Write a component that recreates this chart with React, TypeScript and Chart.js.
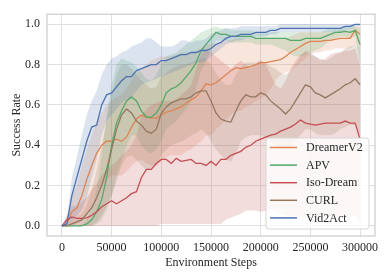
import React, { useEffect, useRef } from 'react';
import { Chart, registerables } from 'chart.js';

Chart.register(...registerables);

const steps = [
  0, 5000, 10000, 15000, 20000, 25000, 30000, 35000, 40000, 45000,
  50000, 55000, 60000, 65000, 70000, 75000, 80000, 85000, 90000, 95000,
  100000, 105000, 110000, 115000, 120000, 125000, 130000, 135000, 140000, 145000,
  150000, 155000, 160000, 165000, 170000, 175000, 180000, 185000, 190000, 195000,
  200000, 205000, 210000, 215000, 220000, 225000, 230000, 235000, 240000, 245000,
  250000, 255000, 260000, 265000, 270000, 275000, 280000, 285000, 290000, 295000,
  300000,
];

const methods = ['DreamerV2', 'APV', 'Iso-Dream', 'CURL', 'Vid2Act'];
const colors = ['#dd8452', '#55a868', '#c44e52', '#937860', '#4c72b0'];
const xTicks = [0, 50000, 100000, 150000, 200000, 250000, 300000];
const yTicks = [0, 0.2, 0.4, 0.6, 0.8, 1.0];

const dreamerMean = [
  0, 0.01, 0.07, 0.09, 0.15, 0.23, 0.30, 0.36, 0.40, 0.42,
  0.42, 0.43, 0.42, 0.44, 0.49, 0.53, 0.55, 0.54, 0.535, 0.535,
  0.55, 0.565, 0.57, 0.58, 0.59, 0.61, 0.625, 0.64, 0.67, 0.705,
  0.70, 0.71, 0.73, 0.75, 0.77, 0.785, 0.78, 0.785, 0.79, 0.80,
  0.81, 0.81, 0.815, 0.82, 0.825, 0.84, 0.86, 0.875, 0.89, 0.905,
  0.915, 0.915, 0.915, 0.92, 0.92, 0.925, 0.93, 0.93, 0.93, 0.97,
  0.95,
];
const dreamerLower = [
  0, 0, 0, 0.01, 0.02, 0.05, 0.10, 0.15, 0.20, 0.23,
  0.25, 0.25, 0.25, 0.27, 0.30, 0.32, 0.33, 0.31, 0.30, 0.30,
  0.32, 0.34, 0.35, 0.35, 0.35, 0.37, 0.38, 0.40, 0.42, 0.45,
  0.45, 0.48, 0.50, 0.53, 0.55, 0.57, 0.57, 0.59, 0.60, 0.62,
  0.63, 0.65, 0.68, 0.72, 0.75, 0.76, 0.77, 0.79, 0.81, 0.83,
  0.85, 0.86, 0.86, 0.87, 0.87, 0.88, 0.88, 0.88, 0.88, 0.90,
  0.88,
];
const dreamerUpper = [
  0, 0.05, 0.15, 0.20, 0.30, 0.38, 0.45, 0.52, 0.56, 0.60,
  0.62, 0.64, 0.65, 0.68, 0.72, 0.76, 0.78, 0.80, 0.82, 0.83,
  0.84, 0.84, 0.84, 0.85, 0.86, 0.86, 0.86, 0.87, 0.88, 0.90,
  0.90, 0.91, 0.91, 0.92, 0.92, 0.93, 0.93, 0.93, 0.93, 0.93,
  0.93, 0.93, 0.93, 0.93, 0.93, 0.93, 0.94, 0.95, 0.96, 0.96,
  0.96, 0.96, 0.96, 0.96, 0.96, 0.96, 0.97, 0.97, 0.97, 0.99,
  0.99,
];

const apvMean = [
  0, 0, 0, 0, 0, 0.01, 0.03, 0.07, 0.13, 0.24,
  0.40, 0.51, 0.57, 0.62, 0.64, 0.62, 0.57, 0.54, 0.54, 0.56,
  0.60, 0.66, 0.68, 0.69, 0.71, 0.74, 0.77, 0.81, 0.87, 0.90,
  0.93, 0.96, 0.95, 0.95, 0.94, 0.94, 0.94, 0.94, 0.94, 0.93,
  0.93, 0.93, 0.93, 0.93, 0.93, 0.93, 0.92, 0.92, 0.92, 0.93,
  0.93, 0.93, 0.93, 0.94, 0.95, 0.96, 0.96, 0.965, 0.96, 0.97,
  0.90,
];
const apvLower = [
  0, 0, 0, 0, 0, 0, 0, 0.01, 0.03, 0.08,
  0.15, 0.25, 0.32, 0.40, 0.45, 0.45, 0.40, 0.37, 0.36, 0.38,
  0.42, 0.48, 0.50, 0.52, 0.55, 0.58, 0.62, 0.68, 0.77, 0.82,
  0.87, 0.92, 0.92, 0.92, 0.91, 0.91, 0.91, 0.91, 0.91, 0.90,
  0.90, 0.90, 0.90, 0.89, 0.88, 0.87, 0.85, 0.84, 0.84, 0.85,
  0.86, 0.87, 0.88, 0.90, 0.92, 0.93, 0.94, 0.94, 0.93, 0.94,
  0.80,
];
const apvUpper = [
  0, 0, 0, 0, 0.01, 0.03, 0.08, 0.18, 0.35, 0.55,
  0.70, 0.80, 0.83, 0.82, 0.81, 0.79, 0.76, 0.73, 0.72, 0.75,
  0.80, 0.84, 0.85, 0.86, 0.88, 0.90, 0.92, 0.94, 0.96, 0.97,
  0.98, 0.99, 0.98, 0.98, 0.97, 0.97, 0.97, 0.97, 0.97, 0.96,
  0.96, 0.96, 0.96, 0.96, 0.96, 0.96, 0.96, 0.96, 0.96, 0.96,
  0.96, 0.96, 0.96, 0.97, 0.98, 0.98, 0.98, 0.99, 0.99, 0.99,
  0.98,
];

const isoMean = [
  0, 0.03, 0.045, 0.037, 0.037, 0.04, 0.053, 0.07, 0.095, 0.11,
  0.125, 0.11, 0.125, 0.14, 0.16, 0.17, 0.24, 0.28, 0.28, 0.31,
  0.33, 0.33, 0.31, 0.335, 0.32, 0.325, 0.33, 0.31, 0.31, 0.30,
  0.32, 0.30, 0.33, 0.33, 0.35, 0.36, 0.37, 0.39, 0.40, 0.42,
  0.43, 0.44, 0.45, 0.455, 0.47, 0.48, 0.49, 0.505, 0.525, 0.51,
  0.505, 0.50, 0.505, 0.51, 0.51, 0.51, 0.51, 0.52, 0.51, 0.51,
  0.43,
];
const isoLower = [
  0, 0, 0, 0, 0, 0, 0, 0, 0, 0,
  0, 0, 0, 0, 0, 0, 0, 0, 0, 0,
  0.01, 0.01, 0.01, 0.01, 0.01, 0.01, 0.01, 0.01, 0.01, 0.01,
  0.01, 0.01, 0.01, 0.03, 0.04, 0.05, 0.06, 0.075, 0.078, 0.075,
  0.07, 0.075, 0.08, 0.08, 0.06, 0.05, 0.05, 0.05, 0.05, 0.05,
  0.05, 0.05, 0.05, 0.05, 0.05, 0.05, 0.05, 0.05, 0.05, 0.05,
  0.02,
];
const isoUpper = [
  0, 0.05, 0.10, 0.10, 0.12, 0.14, 0.18, 0.21, 0.25, 0.28,
  0.30, 0.32, 0.35, 0.37, 0.40, 0.45, 0.55, 0.58, 0.60, 0.61,
  0.62, 0.62, 0.62, 0.63, 0.65, 0.67, 0.70, 0.78, 0.85, 0.88,
  0.86, 0.84, 0.82, 0.80, 0.78, 0.80, 0.82, 0.80, 0.78, 0.80,
  0.82, 0.80, 0.75, 0.70, 0.68, 0.72, 0.78, 0.82, 0.85, 0.86,
  0.85, 0.84, 0.82, 0.83, 0.85, 0.86, 0.86, 0.87, 0.87, 0.88,
  0.80,
];

const curlMean = [
  0, 0, 0.01, 0.02, 0.03, 0.06, 0.09, 0.14, 0.20, 0.28,
  0.38, 0.48, 0.55, 0.58, 0.56, 0.52, 0.50, 0.47, 0.46, 0.48,
  0.56, 0.59, 0.61, 0.62, 0.63, 0.63, 0.64, 0.66, 0.67, 0.67,
  0.62, 0.56, 0.53, 0.52, 0.515, 0.57, 0.62, 0.65, 0.64, 0.64,
  0.66, 0.65, 0.62, 0.60, 0.58, 0.555, 0.58, 0.62, 0.66, 0.70,
  0.69, 0.66, 0.65, 0.635, 0.65, 0.665, 0.68, 0.70, 0.71, 0.73,
  0.70,
];
const curlLower = [
  0, 0, 0, 0, 0, 0, 0, 0.02, 0.05, 0.10,
  0.15, 0.22, 0.30, 0.34, 0.35, 0.33, 0.30, 0.28, 0.28, 0.30,
  0.35, 0.38, 0.40, 0.41, 0.42, 0.43, 0.45, 0.46, 0.48, 0.46,
  0.42, 0.38, 0.35, 0.33, 0.32, 0.36, 0.42, 0.44, 0.45, 0.45,
  0.45, 0.44, 0.42, 0.40, 0.38, 0.38, 0.40, 0.42, 0.45, 0.48,
  0.48, 0.46, 0.45, 0.45, 0.45, 0.46, 0.48, 0.49, 0.50, 0.50,
  0.45,
];
const curlUpper = [
  0, 0, 0.02, 0.04, 0.06, 0.10, 0.18, 0.28, 0.40, 0.52,
  0.65, 0.75, 0.80, 0.80, 0.78, 0.75, 0.72, 0.70, 0.68, 0.69,
  0.74, 0.76, 0.78, 0.79, 0.80, 0.80, 0.81, 0.82, 0.83, 0.83,
  0.80, 0.76, 0.72, 0.70, 0.70, 0.75, 0.79, 0.81, 0.81, 0.81,
  0.82, 0.81, 0.79, 0.78, 0.76, 0.75, 0.77, 0.80, 0.84, 0.87,
  0.86, 0.84, 0.83, 0.82, 0.83, 0.85, 0.86, 0.88, 0.89, 0.90,
  0.88,
];

const vid2actMean = [
  0, 0.01, 0.15, 0.24, 0.33, 0.42, 0.49, 0.50, 0.60, 0.65,
  0.66, 0.69, 0.72, 0.74, 0.74, 0.77, 0.78, 0.79, 0.80, 0.80,
  0.82, 0.82, 0.83, 0.84, 0.85, 0.85, 0.86, 0.86, 0.87, 0.87,
  0.88, 0.90, 0.91, 0.93, 0.94, 0.94, 0.95, 0.95, 0.95, 0.96,
  0.96, 0.96, 0.97, 0.97, 0.98, 0.98, 0.98, 0.98, 0.98, 0.98,
  0.98, 0.98, 0.98, 0.98, 0.98, 0.98, 0.98, 0.99, 0.99, 1.0,
  1.0,
];
const vid2actLower = [
  0, 0, 0.02, 0.05, 0.08, 0.14, 0.24, 0.33, 0.45, 0.52,
  0.55, 0.58, 0.61, 0.63, 0.64, 0.67, 0.70, 0.71, 0.72, 0.73,
  0.74, 0.75, 0.76, 0.77, 0.78, 0.79, 0.80, 0.81, 0.81, 0.82,
  0.84, 0.86, 0.88, 0.90, 0.91, 0.92, 0.92, 0.93, 0.93, 0.94,
  0.94, 0.94, 0.95, 0.95, 0.96, 0.96, 0.96, 0.96, 0.96, 0.96,
  0.96, 0.96, 0.96, 0.96, 0.96, 0.96, 0.96, 0.97, 0.97, 0.99,
  0.99,
];
const vid2actUpper = [
  0, 0.03, 0.24, 0.34, 0.45, 0.55, 0.62, 0.67, 0.75, 0.80,
  0.83, 0.84, 0.86, 0.87, 0.89, 0.90, 0.91, 0.93, 0.93, 0.91,
  0.89, 0.89, 0.89, 0.90, 0.92, 0.92, 0.91, 0.92, 0.92, 0.93,
  0.95, 0.96, 0.97, 0.98, 0.98, 0.98, 0.99, 0.99, 0.99, 0.99,
  0.99, 0.99, 0.99, 0.99, 1.0, 1.0, 1.0, 1.0, 1.0, 1.0,
  1.0, 1.0, 1.0, 1.0, 1.0, 1.0, 1.0, 1.0, 1.0, 1.0,
  1.0,
];

const means = [dreamerMean, apvMean, isoMean, curlMean, vid2actMean];
const lowers = [dreamerLower, apvLower, isoLower, curlLower, vid2actLower];
const uppers = [dreamerUpper, apvUpper, isoUpper, curlUpper, vid2actUpper];

const FONT = "'Liberation Serif', 'Times New Roman', serif";
const TEXT = '#262626';

function pts(vals: number[]) {
  return steps.map((s, i) => ({ x: s, y: vals[i] }));
}

function rgba(hex: string, a: number) {
  const n = parseInt(hex.slice(1), 16);
  return `rgba(${(n >> 16) & 255},${(n >> 8) & 255},${n & 255},${a})`;
}

const framePlugin = {
  id: 'frame',
  afterDatasetsDraw(chart: any) {
    const { ctx, chartArea: a } = chart;
    ctx.save();
    ctx.strokeStyle = '#cccccc';
    ctx.lineWidth = 1.2;
    ctx.strokeRect(a.left, a.top, a.right - a.left, a.bottom - a.top);
    ctx.restore();
  },
};

const legendPlugin = {
  id: 'insideLegend',
  afterDraw(chart: any) {
    const { ctx, chartArea: a } = chart;
    const w = 103;
    const h = 91;
    const x = a.right - 6 - w;
    const y = a.bottom - 7 - h;
    ctx.save();
    ctx.beginPath();
    const r = 3;
    ctx.moveTo(x + r, y);
    ctx.lineTo(x + w - r, y);
    ctx.quadraticCurveTo(x + w, y, x + w, y + r);
    ctx.lineTo(x + w, y + h - r);
    ctx.quadraticCurveTo(x + w, y + h, x + w - r, y + h);
    ctx.lineTo(x + r, y + h);
    ctx.quadraticCurveTo(x, y + h, x, y + h - r);
    ctx.lineTo(x, y + r);
    ctx.quadraticCurveTo(x, y, x + r, y);
    ctx.closePath();
    ctx.fillStyle = 'rgba(255,255,255,0.8)';
    ctx.fill();
    ctx.strokeStyle = '#d6d6d6';
    ctx.lineWidth = 1;
    ctx.stroke();
    ctx.font = `12px ${FONT}`;
    ctx.textBaseline = 'middle';
    ctx.textAlign = 'left';
    methods.forEach((m, i) => {
      const cy = y + 9.5 + i * 17.6;
      ctx.strokeStyle = colors[i];
      ctx.lineWidth = 1.5;
      ctx.beginPath();
      ctx.moveTo(x + 4, cy);
      ctx.lineTo(x + 31, cy);
      ctx.stroke();
      ctx.fillStyle = TEXT;
      ctx.fillText(m, x + 40, cy + 0.5);
    });
    ctx.restore();
  },
};

export default function App() {
  const ref = useRef<HTMLCanvasElement>(null);

  useEffect(() => {
    if (!ref.current) return;
    const datasets: any[] = [];
    // bands: indices 0..9 (upper, lower pairs)
    methods.forEach((m, i) => {
      const ui = datasets.length;
      datasets.push({
        label: m + ' upper',
        data: pts(uppers[i]),
        borderWidth: 0,
        borderColor: 'rgba(0,0,0,0)',
        backgroundColor: rgba(colors[i], 0.2),
        pointRadius: 0,
        tension: 0,
        fill: ui + 1,
        order: 24 - i,
      });
      datasets.push({
        label: m + ' lower',
        data: pts(lowers[i]),
        borderWidth: 0,
        borderColor: 'rgba(0,0,0,0)',
        backgroundColor: 'rgba(0,0,0,0)',
        pointRadius: 0,
        tension: 0,
        fill: false,
        order: 24 - i,
      });
    });
    methods.forEach((m, i) => {
      datasets.push({
        label: m,
        data: pts(means[i]),
        borderColor: colors[i],
        borderWidth: 1.3,
        pointRadius: 0,
        tension: 0,
        fill: false,
        order: 4 - i,
      });
    });

    const chart = new Chart(ref.current, {
      type: 'line',
      data: { datasets },
      plugins: [framePlugin, legendPlugin],
      options: {
        animation: false,
        responsive: true,
        maintainAspectRatio: false,
        layout: { padding: { left: 0, right: 15, top: 9, bottom: 0 } },
        plugins: {
          legend: { display: false },
          tooltip: { enabled: false },
          filler: { propagate: false },
        },
        scales: {
          x: {
            type: 'linear',
            min: -15000,
            max: 315000,
            afterBuildTicks: (s: any) => {
              s.ticks = xTicks.map((v) => ({ value: v }));
            },
            afterFit: (s: any) => {
              s.height = 43;
            },
            grid: { color: '#e0e0e0', lineWidth: 1, drawTicks: false },
            border: { display: false },
            ticks: {
              padding: 5,
              color: TEXT,
              font: { family: FONT, size: 12 },
              maxRotation: 0,
              callback: (v: any) => String(v),
            },
            title: {
              display: true,
              text: 'Environment Steps',
              color: TEXT,
              font: { family: FONT, size: 12 },
              padding: { top: 0, bottom: 9 },
            },
          },
          y: {
            type: 'linear',
            min: -0.05,
            max: 1.05,
            afterBuildTicks: (s: any) => {
              s.ticks = yTicks.map((v) => ({ value: v }));
            },
            afterFit: (s: any) => {
              s.width = 47;
            },
            grid: { color: '#e0e0e0', lineWidth: 1, drawTicks: false },
            border: { display: false },
            ticks: {
              padding: 7,
              color: TEXT,
              font: { family: FONT, size: 12 },
              callback: (v: any) => Number(v).toFixed(1),
            },
            title: {
              display: true,
              text: 'Success Rate',
              color: TEXT,
              font: { family: FONT, size: 12 },
              padding: { top: 10, bottom: 0 },
            },
          },
        },
      },
    });
    return () => chart.destroy();
  }, []);

  return (
    <div style={{ position: 'fixed', left: 0, top: 0, width: 390, height: 279, background: '#fff' }}>
      <canvas ref={ref} />
    </div>
  );
}
